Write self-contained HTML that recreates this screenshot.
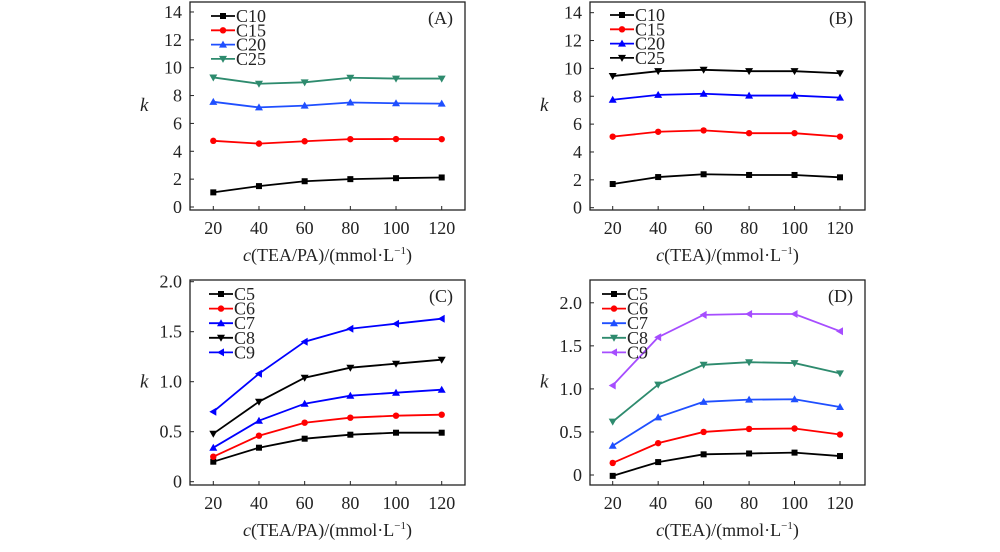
<!DOCTYPE html>
<html><head><meta charset="utf-8"><style>
body{margin:0;background:#fff;}
svg{display:block;font-family:"Liberation Serif",serif;}
</style></head><body>
<svg id="s" width="1000" height="552" viewBox="0 0 1000 552"></svg>
<script>
const xCats=[20,40,60,80,100,120];
const aNames=["C10","C15","C20","C25"];
const aC10=[1.05,1.5,1.85,2.0,2.07,2.12];
const aC15=[4.75,4.55,4.72,4.87,4.88,4.87];
const aC20=[7.55,7.15,7.28,7.5,7.45,7.42];
const aC25=[9.3,8.85,8.95,9.28,9.22,9.22];
const bC10=[1.7,2.2,2.4,2.35,2.35,2.18];
const bC15=[5.1,5.45,5.55,5.35,5.35,5.1];
const bC20=[7.75,8.1,8.18,8.05,8.05,7.9];
const bC25=[9.45,9.8,9.9,9.8,9.8,9.65];
const cNames=["C5","C6","C7","C8","C9"];
const cC5=[0.2,0.34,0.43,0.47,0.49,0.49];
const cC6=[0.25,0.46,0.59,0.64,0.66,0.67];
const cC7=[0.34,0.61,0.78,0.86,0.89,0.92];
const cC8=[0.48,0.80,1.04,1.14,1.18,1.22];
const cC9=[0.70,1.08,1.40,1.53,1.58,1.63];
const dC5=[-0.01,0.15,0.24,0.25,0.26,0.22];
const dC6=[0.14,0.37,0.50,0.535,0.54,0.47];
const dC7=[0.34,0.67,0.85,0.875,0.88,0.79];
const dC8=[0.62,1.05,1.28,1.31,1.30,1.18];
const dC9=[1.04,1.60,1.86,1.87,1.87,1.67];
const abTicks=[0,2,4,6,8,10,12,14];
const abTickLabels=["0","2","4","6","8","10","12","14"];
const cdTicks=[0,0.5,1.0,1.5,2.0];
const cdTickLabels=["0","0.5","1.0","1.5","2.0"];

const svg=document.getElementById('s');
const NS="http://www.w3.org/2000/svg";
function mk(tag,attrs,parent){const e=document.createElementNS(NS,tag);for(const k in attrs)e.setAttribute(k,attrs[k]);(parent||svg).appendChild(e);return e;}

function marker(g,type,x,y,col){
  let e;
  if(type==='sq'){e=mk('rect',{x:x-3,y:y-3,width:6,height:6,fill:col},g);}
  else if(type==='ci'){e=mk('circle',{cx:x,cy:y,r:3.2,fill:col},g);}
  else if(type==='up'){e=mk('polygon',{points:`${x},${y-4} ${x-4},${y+3} ${x+4},${y+3}`,fill:col},g);}
  else if(type==='dn'){e=mk('polygon',{points:`${x},${y+4} ${x-4},${y-3} ${x+4},${y-3}`,fill:col},g);}
  else {e=mk('polygon',{points:`${x-4},${y} ${x+3},${y-4} ${x+3},${y+4}`,fill:col},g);}
  
  
}

function panel(p){
  const g=mk('g',{});
  
  
  const xs=v=>p.x20+(v-20)*(p.x120-p.x20)/100;
  const ys=v=>p.y0-v*p.yPer;
  const box=mk('rect',{x:p.L,y:p.T,width:p.R-p.L,height:p.B-p.T,fill:'none',stroke:'#222','stroke-width':1.3},g);
  
  
  p.ticks.forEach((t,i)=>{
    const y=ys(t);
    const tk=mk('line',{x1:p.L,x2:p.L+4,y1:y,y2:y,stroke:'#222'},g);
    
    
    const tl=mk('text',{x:p.L-8,y:y+6,'text-anchor':'end','font-size':18,fill:'#222'},g);
    tl.textContent=p.tickLabels[i];
    
    
  });
  xCats.forEach(c=>{
    const x=xs(c);
    const tk=mk('line',{x1:x,x2:x,y1:p.B,y2:p.B-4,stroke:'#222'},g);
    
    
    const tl=mk('text',{x:x,y:p.B+24,'text-anchor':'middle','font-size':18,fill:'#222'},g);
    tl.textContent=c;
    
    
  });
  const yl=mk('text',{x:p.L-50,y:(p.T+p.B)/2+5,'font-size':19,'font-style':'italic',fill:'#222'},g);
  yl.textContent='k';
  
  
  const xl=mk('text',{x:(p.L+p.R)/2,y:p.B+51,'text-anchor':'middle','font-size':18,fill:'#222'},g);
  xl.innerHTML='<tspan font-style="italic">c</tspan>'+p.xlab+'/(mmol·L<tspan font-size="11" dy="-7">−1</tspan><tspan dy="7">)</tspan>';
  
  
  const pl=mk('text',{x:p.R-12,y:p.T+22,'text-anchor':'end','font-size':18,fill:'#222'},g);
  pl.textContent='('+p.id+')';
  
  
  p.series.forEach((s,i)=>{
    const sg=mk('g',{},g);
    
    
    const pts=s.map((v,j)=>xs(xCats[j])+','+ys(v)).join(' ');
    const ln=mk('polyline',{points:pts,fill:'none',stroke:p.colors[i],'stroke-width':1.8},sg);
    
    
    s.forEach((v,j)=>marker(sg,p.marks[i],xs(xCats[j]),ys(v),p.colors[i]));
    const ly=p.legY+i*p.legDy;
    const lg=mk('g',{},g);
    
    
    mk('line',{x1:p.legX,x2:p.legX+24,y1:ly,y2:ly,stroke:p.colors[i],'stroke-width':1.8},lg);
    marker(lg,p.marks[i],p.legX+12,ly,p.colors[i]);
    const lt=mk('text',{x:p.legX+25,y:ly+6,'font-size':18,fill:'#222'},lg);
    lt.textContent=p.names[i];
  });
}
const green='#2e8b6e',purple='#a64dff';
panel({id:'A',L:190,R:465,T:2,B:210,x20:213.3,x120:441.7,y0:207,yPer:13.93,ticks:abTicks,tickLabels:abTickLabels,
  xlab:'(TEA/PA)',names:aNames,series:[aC10,aC15,aC20,aC25],colors:['#000','#f00','#1f4fff',green],marks:['sq','ci','up','dn'],legX:211,legY:16,legDy:14.3});
panel({id:'B',L:590,R:865,T:2,B:210,x20:612.7,x120:840,y0:207.7,yPer:13.93,ticks:abTicks,tickLabels:abTickLabels,
  xlab:'(TEA)',names:aNames,series:[bC10,bC15,bC20,bC25],colors:['#000','#f00','#0000ff','#000'],marks:['sq','ci','up','dn'],legX:610,legY:15,legDy:14.3});
panel({id:'C',L:190,R:465,T:280,B:485,x20:213.3,x120:441.7,y0:481.7,yPer:100,ticks:cdTicks,tickLabels:cdTickLabels,
  xlab:'(TEA/PA)',names:cNames,series:[cC5,cC6,cC7,cC8,cC9],colors:['#000','#f00','#0000ff','#000','#0000ff'],marks:['sq','ci','up','dn','lt'],legX:209,legY:294,legDy:14.6});
panel({id:'D',L:590,R:865,T:280,B:485,x20:612.7,x120:840,y0:475,yPer:86.1,ticks:cdTicks,tickLabels:cdTickLabels,
  xlab:'(TEA)',names:cNames,series:[dC5,dC6,dC7,dC8,dC9],colors:['#000','#f00','#1f4fff',green,purple],marks:['sq','ci','up','dn','lt'],legX:602,legY:294,legDy:14.6});
</script>
</body></html>
